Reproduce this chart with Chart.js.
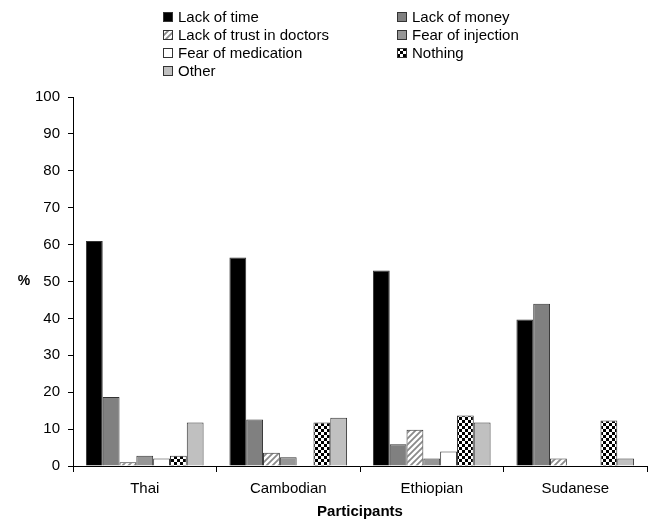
<!DOCTYPE html>
<html>
<head>
<meta charset="utf-8">
<script src="https://cdn.jsdelivr.net/npm/chart.js@4"></script>
<style>
  html, body { margin: 0; padding: 0; background: #fff; }
  #wrap { position: relative; width: 654px; height: 521px; }
  #chart { position: absolute; left: 0; top: 0; }
  #legend { position: absolute; left: 0; top: 0; width: 654px; height: 85px;
            font: 15px "Liberation Sans", Arial, sans-serif; color: #000; }
  .item { position: absolute; height: 18px; line-height: 18px; white-space: nowrap; }
  .item canvas { position: absolute; left: 0; top: 4px; }
  .item span { position: absolute; left: 15px; top: 0; }
</style>
</head>
<body>
<div id="wrap">
  <canvas id="chart" width="654" height="521"></canvas>
  <div id="legend"></div>
</div>
<script>
/* ── data ── */
const categories = ['Thai', 'Cambodian', 'Ethiopian', 'Sudanese'];
const lackOfTime       = [61,   56.5, 53,   39.7];
const lackOfMoney      = [18.7, 12.6, 5.9,  44];
const lackOfTrust      = [1,    3.6,  9.8,  2];
const fearOfInjection  = [2.8,  2.4,  2,    null];
const fearOfMedication = [2,    null, 3.9,  null];
const nothing          = [2.8,  11.8, 13.7, 12.3];
const other            = [11.8, 13.1, 11.8, 2];
const yTicks = [0, 10, 20, 30, 40, 50, 60, 70, 80, 90, 100];

const FONT = '"Liberation Sans", Arial, Helvetica, sans-serif';

/* ── fill patterns ── */
function hatchPattern(ctx) {
  const c = document.createElement('canvas');
  c.width = 6; c.height = 6;
  const g = c.getContext('2d');
  g.fillStyle = '#fff'; g.fillRect(0, 0, 6, 6);
  g.strokeStyle = '#8a8a8a'; g.lineWidth = 1.8;
  g.beginPath();
  g.moveTo(-1, 7); g.lineTo(7, -1);
  g.moveTo(-1, 1); g.lineTo(1, -1);
  g.moveTo(5, 7);  g.lineTo(7, 5);
  g.stroke();
  return ctx.createPattern(c, 'repeat');
}
function checkerPattern(ctx) {
  const c = document.createElement('canvas');
  c.width = 6; c.height = 6;
  const g = c.getContext('2d');
  g.fillStyle = '#fff'; g.fillRect(0, 0, 6, 6);
  g.fillStyle = '#000';
  g.fillRect(0, 0, 3, 3); g.fillRect(3, 3, 3, 3);
  return ctx.createPattern(c, 'repeat');
}

const canvas = document.getElementById('chart');
const mainCtx = canvas.getContext('2d');

const series = [
  { label: 'Lack of time',            data: lackOfTime,       fill: () => '#000000', col: 0, row: 0 },
  { label: 'Lack of money',           data: lackOfMoney,      fill: () => '#808080', col: 1, row: 0 },
  { label: 'Lack of trust in doctors',data: lackOfTrust,      fill: hatchPattern,    col: 0, row: 1 },
  { label: 'Fear of injection',       data: fearOfInjection,  fill: () => '#969696', col: 1, row: 1 },
  { label: 'Fear of medication',      data: fearOfMedication, fill: () => '#ffffff', col: 0, row: 2 },
  { label: 'Nothing',                 data: nothing,          fill: checkerPattern,  col: 1, row: 2 },
  { label: 'Other',                   data: other,            fill: () => '#c0c0c0', col: 0, row: 3 },
];

/* ── HTML legend, two columns ── */
const legend = document.getElementById('legend');
const colX = [163, 397];
series.forEach(s => {
  const item = document.createElement('div');
  item.className = 'item';
  item.style.left = colX[s.col] + 'px';
  item.style.top = (8 + s.row * 18) + 'px';
  const sw = document.createElement('canvas');
  sw.width = 10; sw.height = 10;
  const g = sw.getContext('2d');
  g.fillStyle = s.fill(g); g.fillRect(0, 0, 10, 10);
  g.strokeStyle = '#333'; g.lineWidth = 1; g.strokeRect(0.5, 0.5, 9, 9);
  const txt = document.createElement('span');
  txt.textContent = s.label;
  item.appendChild(sw); item.appendChild(txt);
  legend.appendChild(item);
});

/* "%" label drawn unrotated left of the y axis */
const percentLabel = {
  id: 'percentLabel',
  afterDraw(chart) {
    const { ctx, chartArea } = chart;
    ctx.save();
    ctx.font = 'bold 14px ' + FONT;
    ctx.fillStyle = '#000';
    ctx.textAlign = 'center';
    ctx.textBaseline = 'middle';
    ctx.fillText('%', 24, (chartArea.top + chartArea.bottom) / 2);
    ctx.restore();
  },
};

new Chart(canvas, {
  type: 'bar',
  data: {
    labels: categories,
    datasets: series.map(s => ({
      label: s.label,
      data: s.data,
      backgroundColor: s.fill(mainCtx),
      borderColor: '#333',
      borderWidth: 1,
      categoryPercentage: 0.82,
      barPercentage: 1,
    })),
  },
  options: {
    responsive: false,
    animation: false,
    layout: { padding: { top: 97, right: 7, left: 0, bottom: 0 } },
    plugins: { legend: { display: false }, tooltip: { enabled: false } },
    scales: {
      x: {
        grid: { drawOnChartArea: false, offset: true, tickLength: 6, color: '#000' },
        border: { color: '#000', width: 1 },
        ticks: { color: '#000', padding: 8, font: { family: FONT, size: 15 } },
        title: { display: true, text: 'Participants', color: '#000', padding: { top: 2, bottom: 0 },
                 font: { family: FONT, size: 15, weight: 'bold' } },
        afterFit(scale) { scale.height = 55; },
      },
      y: {
        min: 0, max: 100,
        afterBuildTicks(scale) { scale.ticks = yTicks.map(v => ({ value: v })); },
        grid: { drawOnChartArea: false, tickLength: 5, color: '#000' },
        border: { color: '#000', width: 1 },
        ticks: { color: '#000', padding: 8, font: { family: FONT, size: 15 } },
        afterFit(scale) { scale.width = 73; },
      },
    },
  },
  plugins: [percentLabel],
});
</script>
</body>
</html>
